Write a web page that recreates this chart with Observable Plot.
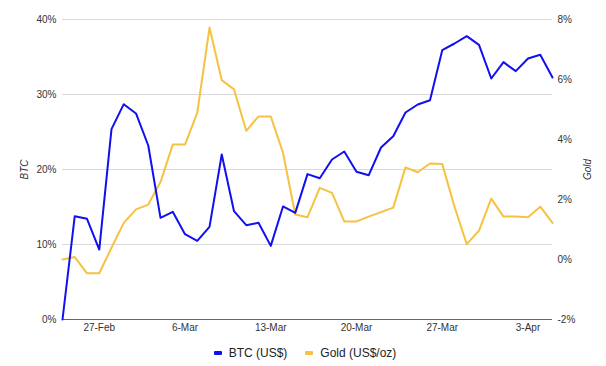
<!DOCTYPE html>
<html>
<head>
<meta charset="utf-8">
<script src="https://cdn.jsdelivr.net/npm/d3@7"></script>
<script src="https://cdn.jsdelivr.net/npm/@observablehq/plot@0.6"></script>
<style>
  html, body { margin: 0; padding: 0; background: #fff; }
  body { width: 606px; height: 366px; overflow: hidden; font-family: "Liberation Sans", Arial, sans-serif; }
  #chart svg { display: block; }
  #chart [aria-label="y-axis label"] text { font-style: italic; }
  .legend { display: flex; justify-content: center; align-items: center; height: 26px; font-size: 12px; color: #222; margin-left: 4px; }
  .legend .item { display: flex; align-items: center; margin: 0 9px; }
  .legend .sw { width: 8px; height: 4px; margin-right: 7px; border-radius: 1px; }
</style>
</head>
<body>
<div id="chart"></div>
<div class="legend">
  <span class="item"><span class="sw" style="background:#1010f0"></span>BTC (US$)</span>
  <span class="item"><span class="sw" style="background:#f5c242"></span>Gold (US$/oz)</span>
</div>
<script>
const dates = [
  "2022-02-24","2022-02-25","2022-02-26","2022-02-27","2022-02-28",
  "2022-03-01","2022-03-02","2022-03-03","2022-03-04","2022-03-05",
  "2022-03-06","2022-03-07","2022-03-08","2022-03-09","2022-03-10",
  "2022-03-11","2022-03-12","2022-03-13","2022-03-14","2022-03-15",
  "2022-03-16","2022-03-17","2022-03-18","2022-03-19","2022-03-20",
  "2022-03-21","2022-03-22","2022-03-23","2022-03-24","2022-03-25",
  "2022-03-26","2022-03-27","2022-03-28","2022-03-29","2022-03-30",
  "2022-03-31","2022-04-01","2022-04-02","2022-04-03","2022-04-04",
  "2022-04-05"
];
const btc = [
  0, 13.78, 13.42, 9.33, 25.38,
  28.71, 27.47, 23.2, 13.56, 14.36,
  11.38, 10.49, 12.36, 22.0, 14.44,
  12.58, 12.89, 9.82, 15.07, 14.22,
  19.38, 18.84, 21.33, 22.4, 19.69,
  19.24, 22.93, 24.44, 27.6, 28.67,
  29.24, 35.91, 36.8, 37.78, 36.62,
  32.13, 34.31, 33.11, 34.8, 35.29,
  32.27
];
const gold = [
  0.0, 0.08, -0.46, -0.46, 0.39,
  1.22, 1.67, 1.83, 2.58, 3.83,
  3.83, 4.89, 7.73, 5.98, 5.67,
  4.29, 4.77, 4.77, 3.56, 1.5,
  1.41, 2.39, 2.22, 1.27, 1.27,
  1.43, 1.58, 1.73, 3.07, 2.91,
  3.2, 3.18, 1.76, 0.51, 0.96,
  2.03, 1.43, 1.43, 1.41, 1.76,
  1.22
];
const xTicks = ["2022-02-27","2022-03-06","2022-03-13","2022-03-20","2022-03-27","2022-04-03"];
const btcTicks = [0, 10, 20, 30, 40];
const goldTicks = [-2, 0, 2, 4, 6, 8];

// gold (-2..8 %) shares the plot with btc (0..40 %)
const goldToBtc = g => (g + 2) * 4;
const btcToGold = v => v / 4 - 2;

const parse = d3.utcParse("%Y-%m-%d");
const btcData = dates.map((d, i) => ({date: parse(d), value: btc[i]}));
const goldData = dates.map((d, i) => ({date: parse(d), value: goldToBtc(gold[i])}));

const fmt = d3.utcFormat("%-d-%b");

const chart = Plot.plot({
  width: 606,
  height: 340,
  marginLeft: 62,
  marginRight: 54,
  marginTop: 19,
  marginBottom: 21,
  style: {fontFamily: "'Liberation Sans', Arial, sans-serif", fontSize: "10px", color: "#333", background: "#fff"},
  x: {type: "utc", domain: [parse(dates[0]), parse(dates[dates.length - 1])]},
  y: {domain: [0, 40]},
  marks: [
    Plot.gridY([10, 20, 30, 40], {stroke: "#d9d9d9", strokeOpacity: 1}),
    Plot.ruleY([0], {stroke: "#666", strokeWidth: 1.2}),
    Plot.axisX(xTicks.map(parse), {tickSize: 0, tickPadding: 4, tickFormat: fmt, label: null, fill: "#333"}),
    Plot.axisY(btcTicks, {anchor: "left", tickSize: 0, tickPadding: 6, tickFormat: d => d + "%", label: "BTC", labelArrow: "none", labelAnchor: "center", labelOffset: 42, fill: "#333"}),
    Plot.axisY(goldTicks.map(goldToBtc), {anchor: "right", tickSize: 0, tickPadding: 5, tickFormat: v => Math.round(btcToGold(v)) + "%", label: "Gold", labelArrow: "none", labelAnchor: "center", labelOffset: 38, fill: "#333"}),
    Plot.line(goldData, {x: "date", y: "value", stroke: "#f5c242", strokeWidth: 2}),
    Plot.line(btcData, {x: "date", y: "value", stroke: "#1010f0", strokeWidth: 2})
  ]
});
document.getElementById("chart").append(chart);
</script>
</body>
</html>
